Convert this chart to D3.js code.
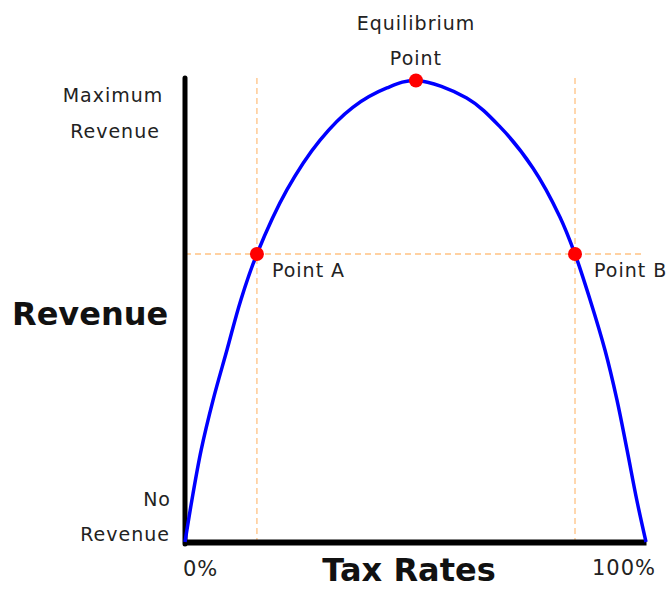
<!DOCTYPE html>
<html>
<head>
<meta charset="utf-8">
<script src="https://cdn.jsdelivr.net/npm/d3@7"></script>
<style>
  html, body { margin: 0; padding: 0; background: #fff; }
  svg { display: block; }
  .lbl { font-family: "DejaVu Sans", sans-serif; fill: #222; font-size: 19px; letter-spacing: 1px; }
  .big { font-family: "DejaVu Sans", sans-serif; fill: #111; font-weight: bold; font-size: 32px; }
</style>
</head>
<body>
<script>
// Tax rate (%) along the curve
const taxRates = [0, 1.5, 3.5, 6.1, 9.1, 12.1, 15.6, 22.1, 29.3, 36.4, 43.8, 50.1, 61.1, 68.3, 75.5, 81.3, 84.6, 87.9, 91.1, 93.7, 95.9, 98.0, 100];
// Revenue (% of maximum) along the curve
const revenue  = [0, 9.1, 19.9, 30.8, 41.6, 52.4, 62.4, 76.3, 87.1, 94.2, 98.4, 100, 96.2, 90.0, 81.0, 70.5, 62.4, 52.4, 41.6, 30.8, 19.9, 9.1, 0];
// Highlighted points
const pointNames = ["Point A", "Equilibrium", "Point B"];
const pointRates = [15.6, 50.1, 84.6];
const pointRevenue = [62.4, 100, 62.4];
// Axis labels
const xTickLabels = ["0%", "100%"];
const yLabelsTop = ["Maximum", "Revenue"];
const yLabelsBottom = ["No", "Revenue"];
const xTitle = "Tax Rates";
const yTitle = "Revenue";

const W = 670, H = 590;
const svg = d3.select("body").append("svg").attr("width", W).attr("height", H);

const x = d3.scaleLinear().domain([0, 100]).range([185, 646]);
const y = d3.scaleLinear().domain([0, 100]).range([542, 80.5]);

const dashColor = "#ffc283";

// Dashed guide lines
[pointRates[0], pointRates[2]].forEach(r => {
  svg.append("line")
    .attr("x1", x(r)).attr("x2", x(r))
    .attr("y1", 78).attr("y2", y(0))
    .attr("stroke", dashColor).attr("stroke-width", 1.3)
    .attr("stroke-dasharray", "6,4");
});
svg.append("line")
  .attr("x1", x(0)).attr("x2", 643)
  .attr("y1", y(pointRevenue[0])).attr("y2", y(pointRevenue[0]))
  .attr("stroke", dashColor).attr("stroke-width", 1.3)
  .attr("stroke-dasharray", "6,4");

// Axes
const xAxis = d3.axisBottom(x).tickValues([]).tickSizeOuter(0);
const gx = svg.append("g").attr("transform", `translate(0,${y(0)})`).call(xAxis);
gx.select(".domain").attr("stroke", "#000").attr("stroke-width", 6);

svg.append("line")
  .attr("x1", x(0)).attr("x2", x(0))
  .attr("y1", 78).attr("y2", y(0) + 2)
  .attr("stroke", "#000").attr("stroke-width", 5)
  .attr("stroke-linecap", "round");

// Curve
const data = taxRates.map((t, i) => ({ t, r: revenue[i] }));
const line = d3.line().x(d => x(d.t)).y(d => y(d.r)).curve(d3.curveCatmullRom.alpha(0.5));
svg.append("path")
  .datum(data)
  .attr("d", line)
  .attr("fill", "none")
  .attr("stroke", "#0000ff")
  .attr("stroke-width", 3.5)
  .attr("stroke-linejoin", "round");

// Points
svg.selectAll("circle.pt")
  .data(pointRates.map((t, i) => ({ t, r: pointRevenue[i] })))
  .join("circle")
  .attr("class", "pt")
  .attr("cx", d => x(d.t)).attr("cy", d => y(d.r))
  .attr("r", 7).attr("fill", "#ff0000");

// Point labels
svg.append("text").attr("class", "lbl").attr("x", x(pointRates[0]) + 15).attr("y", 277).text(pointNames[0]);
svg.append("text").attr("class", "lbl").attr("x", x(pointRates[2]) + 19).attr("y", 277).text(pointNames[2]);
svg.append("text").attr("class", "lbl").attr("text-anchor", "middle").attr("x", x(pointRates[1])).attr("y", 30).text(pointNames[1]);
svg.append("text").attr("class", "lbl").attr("text-anchor", "middle").attr("x", x(pointRates[1])).attr("y", 65).text("Point");

// Y labels
svg.append("text").attr("class", "lbl").attr("text-anchor", "middle").attr("x", 113).attr("y", 102).text(yLabelsTop[0]);
svg.append("text").attr("class", "lbl").attr("text-anchor", "middle").attr("x", 115).attr("y", 138).text(yLabelsTop[1]);
svg.append("text").attr("class", "lbl").attr("text-anchor", "end").attr("x", 171).attr("y", 506).text(yLabelsBottom[0]);
svg.append("text").attr("class", "lbl").attr("text-anchor", "end").attr("x", 170).attr("y", 541).text(yLabelsBottom[1]);

// X tick labels
svg.append("text").attr("class", "lbl").style("font-size", "21px").attr("x", x(0) - 2).attr("y", 576).text(xTickLabels[0]);
svg.append("text").attr("class", "lbl").style("font-size", "21px").attr("text-anchor", "end").attr("x", 656).attr("y", 575).text(xTickLabels[1]);

// Titles
svg.append("text").attr("class", "big").attr("text-anchor", "middle").attr("x", 409).attr("y", 581).text(xTitle);
svg.append("text").attr("class", "big").attr("x", 12).attr("y", 325).text(yTitle);
</script>
</body>
</html>
